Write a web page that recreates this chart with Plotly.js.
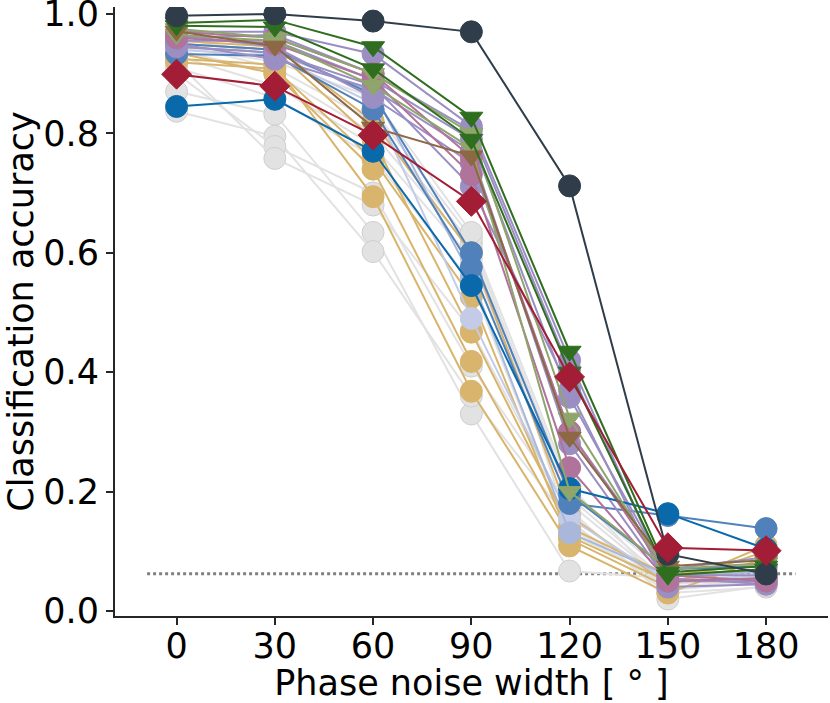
<!DOCTYPE html>
<html>
<head>
<meta charset="utf-8">
<script src="https://cdn.plot.ly/plotly-3.0.1.min.js"></script>
<style>
html, body { margin: 0; padding: 0; background: #fff; }
#chart { width: 830px; height: 703px; }
</style>
</head>
<body>
<div id="chart"></div>
<script>
var noiseWidth = [0, 30, 60, 90, 120, 150, 180];
var chanceLevel = 0.0625;
var chanceSpan = [-9, 189];

// accuracy per noise width, one row per network
var grayRuns =
[
    [0.870, 0.832, 0.634, 0.330, 0.067, 0.055, 0.045],
    [0.837, 0.795, 0.602, 0.360, 0.150, 0.030, 0.040],
    [0.900, 0.778, 0.700, 0.410, 0.170, 0.020, 0.042],
    [0.920, 0.758, 0.680, 0.470, 0.160, 0.040, 0.050],
    [0.930, 0.880, 0.780, 0.590, 0.180, 0.045, 0.055],
    [0.940, 0.900, 0.800, 0.605, 0.190, 0.050, 0.050],
    [0.950, 0.910, 0.820, 0.615, 0.200, 0.060, 0.060],
    [0.960, 0.930, 0.840, 0.625, 0.210, 0.035, 0.048],
    [0.945, 0.920, 0.860, 0.634, 0.140, 0.040, 0.052],
    [0.910, 0.860, 0.760, 0.550, 0.130, 0.050, 0.058]
];

var tanRuns =
[
    [0.919, 0.908, 0.756, 0.526, 0.120, 0.040, 0.110],
    [0.925, 0.915, 0.694, 0.368, 0.109, 0.030, 0.090],
    [0.935, 0.900, 0.740, 0.418, 0.125, 0.050, 0.070],
    [0.950, 0.940, 0.790, 0.467, 0.140, 0.060, 0.080],
    [0.955, 0.945, 0.820, 0.600, 0.160, 0.045, 0.100]
];

var paleBlueRuns =
[
    [0.940, 0.930, 0.850, 0.490, 0.156, 0.050, 0.060]
];

var periwinkleRuns =
[
    [0.945, 0.935, 0.870, 0.560, 0.131, 0.060, 0.065]
];

var steelBlueRuns =
[
    [0.950, 0.940, 0.865, 0.600, 0.195, 0.070, 0.075],
    [0.933, 0.930, 0.840, 0.576, 0.180, 0.160, 0.138]
];

var purpleRuns =
[
    [0.970, 0.970, 0.933, 0.812, 0.420, 0.050, 0.050],
    [0.960, 0.965, 0.900, 0.805, 0.405, 0.055, 0.045],
    [0.955, 0.955, 0.890, 0.790, 0.358, 0.060, 0.060],
    [0.950, 0.924, 0.874, 0.770, 0.280, 0.050, 0.055],
    [0.965, 0.945, 0.860, 0.750, 0.300, 0.070, 0.090],
    [0.945, 0.935, 0.880, 0.711, 0.370, 0.040, 0.045]
];

var pinkRuns =
[
    [0.970, 0.960, 0.900, 0.760, 0.300, 0.060, 0.050],
    [0.960, 0.950, 0.890, 0.731, 0.240, 0.050, 0.055]
];

var blueRuns =
[
    [0.845, 0.857, 0.770, 0.545, 0.205, 0.163, 0.104]
];

var oliveRuns =
[
    [0.975, 0.960, 0.900, 0.800, 0.323, 0.060, 0.070],
    [0.965, 0.955, 0.880, 0.775, 0.200, 0.070, 0.080]
];

var brownRuns =
[
    [0.971, 0.946, 0.810, 0.762, 0.291, 0.075, 0.085]
];

var greenRuns =
[
    [0.980, 0.978, 0.908, 0.790, 0.400, 0.060, 0.070],
    [0.985, 0.990, 0.945, 0.827, 0.435, 0.065, 0.075]
];

var darkRuns =
[
    [0.997, 1.000, 0.988, 0.970, 0.712, 0.095, 0.062]
];

var redRuns =
[
    [0.899, 0.879, 0.797, 0.686, 0.392, 0.106, 0.101]
];

// drawing order: first group at the bottom
var groups =
[
    {runs: grayRuns, color: '#e2e2e2', edge: '#cfcfcf', symbol: 'circle', size: 22},
    {runs: tanRuns, color: '#d8b46c', edge: '#d8b46c', symbol: 'circle', size: 22},
    {runs: paleBlueRuns, color: '#c3cbe6', edge: '#c3cbe6', symbol: 'circle', size: 22},
    {runs: periwinkleRuns, color: '#a9b8da', edge: '#a9b8da', symbol: 'circle', size: 22},
    {runs: steelBlueRuns, color: '#5181bb', edge: '#5181bb', symbol: 'circle', size: 22},
    {runs: purpleRuns, color: '#9a8ec3', edge: '#9a8ec3', symbol: 'circle', size: 22},
    {runs: pinkRuns, color: '#b0739b', edge: '#b0739b', symbol: 'circle', size: 22},
    {runs: blueRuns, color: '#0a69aa', edge: '#0a69aa', symbol: 'circle', size: 22},
    {runs: oliveRuns, color: '#8fa56b', edge: '#8fa56b', symbol: 'triangle-down', size: 20},
    {runs: brownRuns, color: '#8c6844', edge: '#8c6844', symbol: 'triangle-down', size: 20},
    {runs: greenRuns, color: '#2f6e1f', edge: '#2f6e1f', symbol: 'triangle-down', size: 20},
    {runs: darkRuns, color: '#2f3d4a', edge: '#2f3d4a', symbol: 'circle', size: 22},
    {runs: redRuns, color: '#a21d35', edge: '#a21d35', symbol: 'diamond', size: 23}
];

var data = [];

// chance level
data.push(
{
    mode: 'lines',
    x: chanceSpan,
    y: [chanceLevel, chanceLevel],
    line: {color: '#808080', width: 3, dash: 'dot'},
    hoverinfo: 'skip'
});

groups.forEach(function(g)
{
    g.runs.forEach(function(run)
    {
        data.push(
        {
            mode: 'lines+markers',
            x: noiseWidth,
            y: run,
            line: {color: g.color, width: 2},
            marker:
            {
                symbol: g.symbol,
                size: g.size,
                color: g.color,
                line: {color: g.edge, width: 1}
            },
            hoverinfo: 'x+y'
        });
    });
});

var axisFont = {family: 'DejaVu Sans', size: 35, color: '#000'};

var layout =
{
    width: 830,
    height: 703,
    showlegend: false,
    paper_bgcolor: '#fff',
    plot_bgcolor: '#fff',
    margin: {l: 115, r: 2, t: 7, b: 87},
    xaxis:
    {
        range: [-18.8, 198.9],
        tickvals: noiseWidth,
        ticktext: noiseWidth.map(String),
        showgrid: false,
        zeroline: false,
        showline: true,
        linecolor: '#262626',
        linewidth: 2,
        ticks: 'outside',
        ticklen: 7,
        tickwidth: 2,
        tickcolor: '#262626',
        tickfont: axisFont,
        ticklabelstandoff: -9,
        title: {text: 'Phase noise width [ ° ]', font: axisFont, standoff: 10}
    },
    yaxis:
    {
        range: [-0.0084, 1.0116],
        tickvals: [0, 0.2, 0.4, 0.6, 0.8, 1.0],
        ticktext: ['0.0', '0.2', '0.4', '0.6', '0.8', '1.0'],
        showgrid: false,
        zeroline: false,
        showline: true,
        linecolor: '#262626',
        linewidth: 2,
        ticks: 'outside',
        ticklen: 7,
        tickwidth: 2,
        tickcolor: '#262626',
        tickfont: axisFont,
        ticklabeloverflow: 'allow',
        title: {text: 'Classification accuracy', font: axisFont}
    }
};

Plotly.newPlot('chart', data, layout, {displayModeBar: false, staticPlot: true});
</script>
</body>
</html>
